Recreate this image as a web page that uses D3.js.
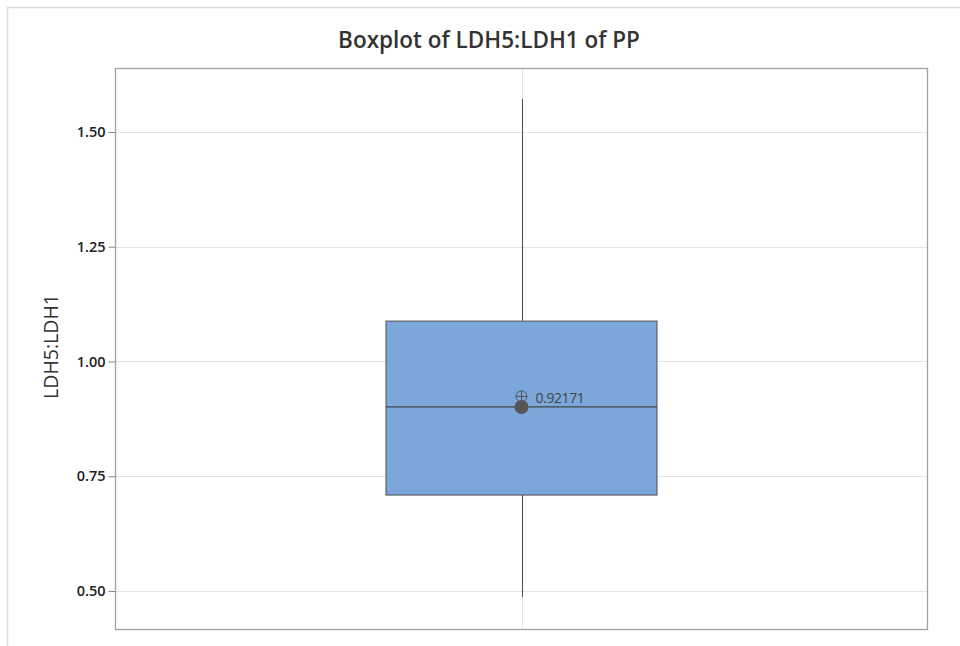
<!DOCTYPE html>
<html>
<head>
<meta charset="utf-8">
<script src="https://cdn.jsdelivr.net/npm/d3@7"></script>
<style>
  body { margin: 0; background: #fff; }
  svg { display: block; font-family: "Open Sans", "Noto Sans", sans-serif; }
</style>
</head>
<body>
<div id="chart"></div>
<script>
// box statistics
const stats = { q1: 0.709, median: 0.901, q3: 1.088, whiskerLow: 0.487, whiskerHigh: 1.572 };
const meanValue = 0.92171;
const yTicks = [0.50, 0.75, 1.00, 1.25, 1.50];
const yDomain = [0.4172, 1.6394];

const width = 960, height = 646;
const plot = { left: 115, top: 68, right: 927, bottom: 629 };

const svg = d3.select("#chart").append("svg")
    .attr("width", width)
    .attr("height", height);

// outer frame (only left and top edges visible)
svg.append("path")
    .attr("d", `M7.5,${height} V7.5 H${width}`)
    .attr("fill", "none")
    .attr("stroke", "#dcdcdc")
    .attr("stroke-width", 1.5);

const y = d3.scaleLinear().domain(yDomain).range([plot.bottom, plot.top]);
const xc = (plot.left + plot.right) / 2 + 0.5;
const boxHalf = 135.5;

// grid
svg.append("g")
    .selectAll("line")
    .data(yTicks)
    .join("line")
    .attr("x1", plot.left).attr("x2", plot.right)
    .attr("y1", d => Math.round(y(d)) + 0.5).attr("y2", d => Math.round(y(d)) + 0.5)
    .attr("stroke", "#e3e3e3");

svg.append("line")
    .attr("x1", Math.round(xc) + 0.5).attr("x2", Math.round(xc) + 0.5)
    .attr("y1", plot.top).attr("y2", plot.bottom)
    .attr("stroke", "#e3e3e3");

// whiskers
svg.append("line")
    .attr("x1", Math.round(xc) + 0.5).attr("x2", Math.round(xc) + 0.5)
    .attr("y1", y(stats.whiskerHigh)).attr("y2", y(stats.whiskerLow))
    .attr("stroke", "#4a4a4a")
    .attr("stroke-width", 1);

// box
svg.append("rect")
    .attr("x", xc - boxHalf)
    .attr("y", y(stats.q3))
    .attr("width", boxHalf * 2)
    .attr("height", y(stats.q1) - y(stats.q3))
    .attr("fill", "#7ba7db")
    .attr("stroke", "#4f4f4f")
    .attr("stroke-width", 1);

// median line
svg.append("line")
    .attr("x1", xc - boxHalf).attr("x2", xc + boxHalf)
    .attr("y1", y(stats.median)).attr("y2", y(stats.median))
    .attr("stroke", "#444")
    .attr("stroke-width", 1.2);

// mean symbol (circle with cross)
const my = y(meanValue) - 1;
const meanG = svg.append("g").attr("transform", `translate(${xc},${my})`);
meanG.append("circle").attr("r", 5.5).attr("fill", "none").attr("stroke", "#555").attr("stroke-width", 1);
meanG.append("line").attr("x1", -5.5).attr("x2", 5.5).attr("stroke", "#555");
meanG.append("line").attr("y1", -5.5).attr("y2", 5.5).attr("stroke", "#555");

svg.append("text")
    .attr("x", xc + 14)
    .attr("y", my + 7)
    .attr("fill", "#444")
    .style("font-size", "14px")
    .style("letter-spacing", "-0.4px")
    .text(d3.format(".5f")(meanValue));

// median dot
svg.append("circle")
    .attr("cx", xc)
    .attr("cy", y(stats.median))
    .attr("r", 7)
    .attr("fill", "#555");

// plot border
svg.append("rect")
    .attr("x", plot.left + 0.5).attr("y", plot.top + 0.5)
    .attr("width", plot.right - plot.left).attr("height", plot.bottom - plot.top)
    .attr("fill", "none")
    .attr("stroke", "#a0a0a0")
    .attr("stroke-width", 1.3);

// y axis
const yAxis = svg.append("g")
    .attr("transform", `translate(${plot.left + 0.5},0)`)
    .call(d3.axisLeft(y).tickValues(yTicks).tickFormat(d3.format(".2f")).tickSize(7).tickPadding(3));
yAxis.select(".domain").remove();
yAxis.selectAll(".tick line").attr("stroke", "#888");
yAxis.selectAll(".tick text")
    .attr("fill", "#222")
    .style("font-size", "14.5px")
    .style("font-weight", "600")
    .style("font-family", "\"Open Sans\", sans-serif");

// title
svg.append("text")
    .attr("x", 489)
    .attr("y", 48)
    .attr("text-anchor", "middle")
    .attr("fill", "#333")
    .style("font-size", "22.5px")
    .style("font-weight", "600")
    .text("Boxplot of LDH5:LDH1 of PP");

// y label
svg.append("text")
    .attr("transform", `translate(58,${(plot.top + plot.bottom) / 2 - 2}) rotate(-90)`)
    .attr("text-anchor", "middle")
    .attr("fill", "#333")
    .style("font-size", "19.5px")
    .text("LDH5:LDH1");
</script>
</body>
</html>
